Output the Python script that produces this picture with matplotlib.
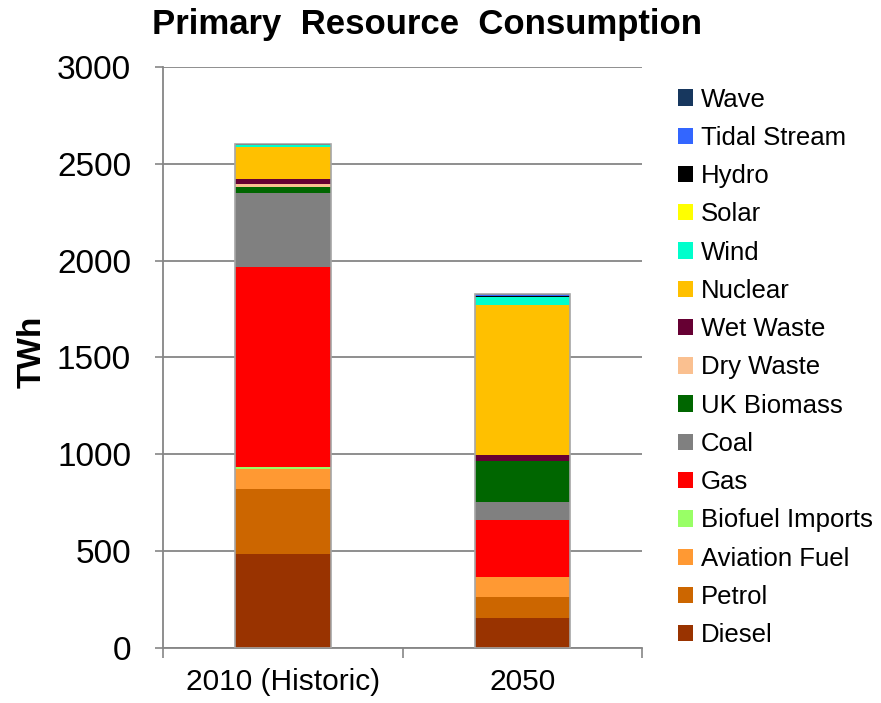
import matplotlib
matplotlib.use("Agg")
import matplotlib.pyplot as plt
import numpy as np

plt.rcParams['font.family'] = ['Liberation Sans', 'DejaVu Sans']

categories = ["2010 (Historic)", "2050"]
series = ["Diesel", "Petrol", "Aviation Fuel", "Biofuel Imports", "Gas", "Coal",
          "UK Biomass", "Dry Waste", "Wet Waste", "Nuclear", "Wind", "Solar",
          "Hydro", "Tidal Stream", "Wave"]
diesel = [487, 157]
petrol = [332, 109]
aviation = [104, 100]
biofuel = [12, 0]
gas = [1031, 293]
coal = [381, 95]
uk_biomass = [33, 210]
dry_waste = [17, 0]
wet_waste = [24, 33]
nuclear = [164, 774]
wind = [11, 40]
solar = [1, 2]
hydro = [5, 6]
tidal = [0, 5]
wave = [0, 4]
values = [diesel, petrol, aviation, biofuel, gas, coal, uk_biomass, dry_waste,
          wet_waste, nuclear, wind, solar, hydro, tidal, wave]
colors = ["#993300", "#CC6600", "#FF9933", "#99FF66", "#FF0000", "#808080",
          "#006600", "#FAC090", "#660033", "#FFC000", "#00FFCC", "#FFFF00",
          "#000000", "#3366FF", "#17375E"]

fig = plt.figure(figsize=(8.81, 7.03), dpi=100)
ax = fig.add_axes([0.185, 0.078, 0.544, 0.827])

x = np.arange(len(categories))
bottom = np.zeros(len(categories))
handles = []
for name, vals, c in zip(series, values, colors):
    v = np.array(vals, dtype=float)
    h = ax.bar(x, v, 0.4, bottom=bottom, color=c, edgecolor='none', label=name, zorder=3)
    handles.append(h)
    bottom += v
ax.bar(x, bottom, 0.4, fill=False, edgecolor='#A6A6A6', linewidth=1.2, zorder=4)

ax.set_xlim(-0.5, 1.5)
ax.set_ylim(0, 3000)
ax.set_yticks(np.arange(0, 3001, 500))
ax.tick_params(axis='y', labelsize=24, length=6, color='#868686', width=1.2, pad=17)
ax.set_xticks(x)
ax.set_xticklabels(categories)
ax.tick_params(axis='x', labelsize=21.5, length=0, pad=14)
ax.set_xticks([-0.5, 0.5, 1.5], minor=True)
ax.tick_params(axis='x', which='minor', length=7, color='#868686', width=1.2)
ax.yaxis.grid(True, color='#868686', linewidth=1.3, zorder=0)
ax.set_axisbelow(True)
for s in ['top', 'right']:
    ax.spines[s].set_visible(False)
for s in ['left', 'bottom']:
    ax.spines[s].set_color('#868686')
    ax.spines[s].set_linewidth(1.3)

ax.set_ylabel("TWh", fontsize=24, fontweight='bold')
ax.yaxis.set_label_coords(-0.24, 0.51)
fig.text(0.485, 0.965, "Primary  Resource  Consumption", fontsize=25, fontweight='bold',
         ha='center', va='center')

leg = fig.legend(handles[::-1], series[::-1], loc='upper left', bbox_to_anchor=(0.758, 0.89),
                 frameon=False, fontsize=18.5, handlelength=0.6, handleheight=0.6,
                 handletextpad=0.3, labelspacing=0.555, borderaxespad=0)

fig.savefig("out.png", dpi=100)
